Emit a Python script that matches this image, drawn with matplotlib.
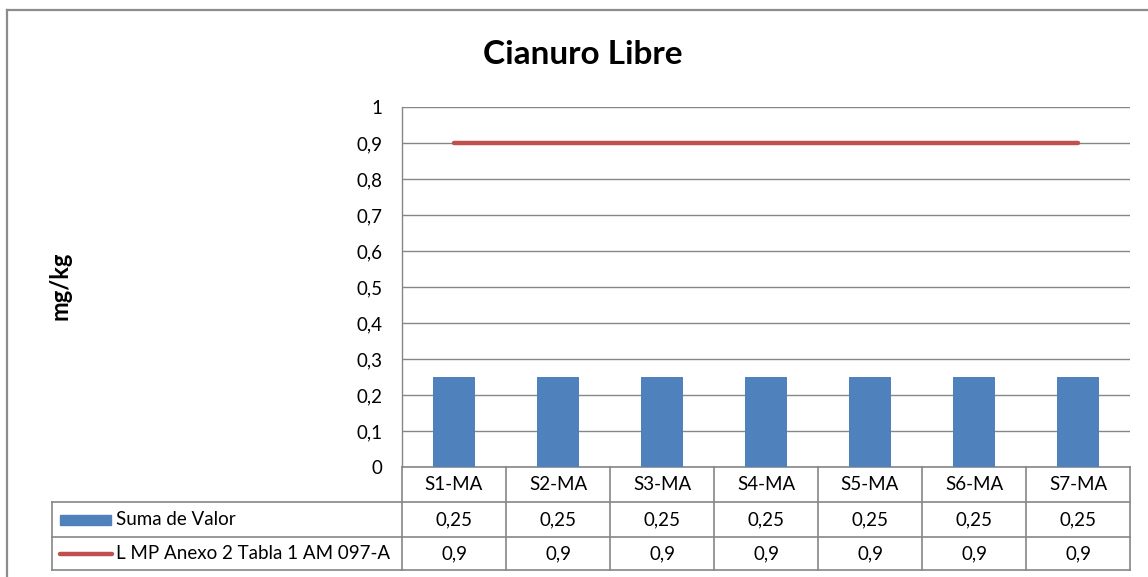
import numpy as np
import matplotlib.pyplot as plt
from matplotlib.transforms import blended_transform_factory
from matplotlib.lines import Line2D
from matplotlib.patches import Rectangle

categories = ["S1-MA", "S2-MA", "S3-MA", "S4-MA", "S5-MA", "S6-MA", "S7-MA"]
suma_valor = [0.25, 0.25, 0.25, 0.25, 0.25, 0.25, 0.25]
lmp_limite = [0.9, 0.9, 0.9, 0.9, 0.9, 0.9, 0.9]
yticks = [0, 0.1, 0.2, 0.3, 0.4, 0.5, 0.6, 0.7, 0.8, 0.9, 1]
serie1 = "Suma de Valor"
serie2 = "L MP Anexo 2 Tabla 1 AM 097-A"

blue = "#4F81BD"
red = "#C0504D"
grey = "#868686"
fs = 13.5

plt.rcParams['font.family'] = ['Lato', 'DejaVu Sans']
W, H = 1148, 577
fig = plt.figure(figsize=(W/100, H/100), dpi=100)
ax = fig.add_axes([402/W, 1-467/H, (1130-402)/W, 360/H])

x = np.arange(len(categories))
ax.bar(x, suma_valor, width=0.4, color=blue, zorder=3)
ax.plot(x, lmp_limite, color=red, lw=3.2, solid_capstyle="round", zorder=4)

ax.set_xlim(-0.5, len(categories)-0.5)
ax.set_ylim(0, 1)
ax.set_yticks(yticks)
ax.set_yticklabels([("%g" % v).replace(".", ",") for v in yticks], fontsize=fs)
ax.set_xticks([])
ax.tick_params(axis="y", length=0, pad=14)
ax.yaxis.grid(True, color=grey, lw=1)
ax.set_axisbelow(True)
for s in ["top", "right", "bottom"]:
    ax.spines[s].set_visible(False)
ax.spines["left"].set_color(grey)
ax.spines["left"].set_linewidth(1)

# data table below the plot
rows = [0, -35/360, -70/360, -103/360]
tb = blended_transform_factory(ax.transData, ax.transAxes)
tf = blended_transform_factory(fig.transFigure, ax.transAxes)
tl = dict(color=grey, lw=1.2, clip_on=False)
for r in rows:
    if r != 0:
        ax.add_line(Line2D([52/W, 402/W], [r, r], transform=tf, **tl))
    ax.add_line(Line2D([-0.5, len(categories)-0.5], [r, r], transform=tb, **tl))
for i in range(len(categories)+1):
    ax.add_line(Line2D([i-0.5, i-0.5], [rows[0], rows[-1]], transform=tb, **tl))
ax.add_line(Line2D([52/W, 52/W], [rows[1], rows[-1]], transform=tf, **tl))

fmt = lambda v: ("%g" % v).replace(".", ",")
for i, c in enumerate(categories):
    ax.text(i, (rows[0]+rows[1])/2, c, transform=tb, ha="center", va="center", fontsize=fs)
    ax.text(i, (rows[1]+rows[2])/2, fmt(suma_valor[i]), transform=tb, ha="center", va="center", fontsize=fs)
    ax.text(i, (rows[2]+rows[3])/2, fmt(lmp_limite[i]), transform=tb, ha="center", va="center", fontsize=fs)

# legend keys in the table
m1 = (rows[1]+rows[2])/2
m2 = (rows[2]+rows[3])/2
ax.add_patch(Rectangle((60/W, m1-5/360), 51/W, 10/360, transform=tf, color=blue, clip_on=False))
ax.add_line(Line2D([60/W, 112/W], [m2, m2], transform=tf, color=red, lw=3.2,
                   solid_capstyle="round", clip_on=False))
ax.text(116/W, m1, serie1, transform=tf, ha="left", va="center", fontsize=fs)
ax.text(116/W, m2, serie2, transform=tf, ha="left", va="center", fontsize=fs)

fig.text(583/W, 1-55/H, "Cianuro Libre", ha="center", va="center", fontsize=24, fontweight="bold")
fig.text(60/W, 1-286/H, "mg/kg", ha="center", va="center", rotation=90, fontsize=17, fontweight="bold")

# chart area border
fig.add_artist(Line2D([7/W, 7/W], [0, 1-10/H], color="#8C8C8C", lw=1.6))
fig.add_artist(Line2D([7/W, 1], [1-10/H, 1-10/H], color="#8C8C8C", lw=1.6))

fig.savefig("out.png", dpi=100)
